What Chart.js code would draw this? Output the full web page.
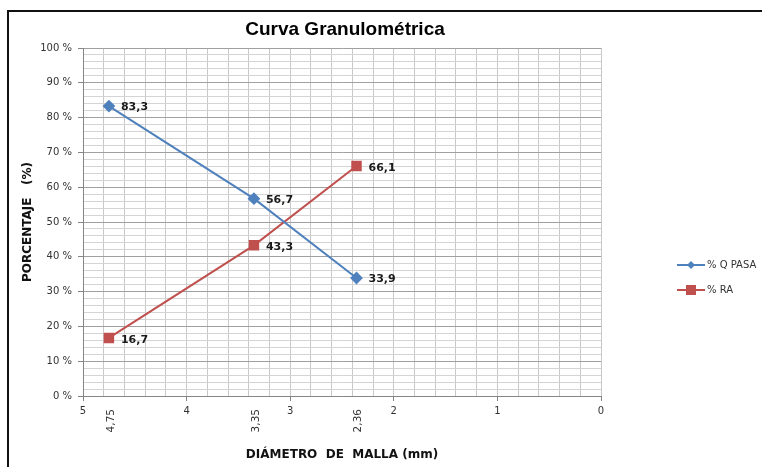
<!DOCTYPE html>
<html lang="es">
<head>
  <meta charset="UTF-8">
  <title>Curva Granulométrica</title>
  <script src="https://cdn.jsdelivr.net/npm/chart.js"></script>
  <style>
    html, body { margin: 0; padding: 0; background: #fff; }
    #contenedor { width: 762px; height: 467px; }
  </style>
</head>
<body>
  <div id="contenedor">
    <canvas id="grafico" width="762" height="467"></canvas>
  </div>

  <script>
    // Datos
    const diametros = [4.75, 3.35, 2.36];
    const etiquetasMalla = ['4,75', '3,35', '2,36'];
    const pasa = [83.3, 56.7, 33.9];
    const retenido = [16.7, 43.3, 66.1];
    const nombresSeries = ['% Q PASA', '% RA'];
    const titulo = 'Curva Granulométrica';

    const azul = '#4F81BD';
    const rojo = '#C0504D';

    function puntos(valores) {
      return diametros.map((d, i) => ({ x: d, y: valores[i] }));
    }

    function esEntero(v) {
      return Math.abs(v - Math.round(v)) < 1e-6;
    }

    // Marco, titulo, etiquetas de datos, etiquetas de malla y leyenda
    const extras = {
      id: 'extras',
      beforeDraw(chart) {
        const ctx = chart.ctx;
        const area = chart.chartArea;
        ctx.save();
        ctx.fillStyle = '#fff';
        ctx.fillRect(0, 0, chart.width, chart.height);
        ctx.strokeStyle = '#111';
        ctx.lineWidth = 2;
        ctx.strokeRect(8, 11, 900, 600);

        // titulo centrado sobre el area del grafico
        ctx.font = 'bold 19px "Liberation Sans"';
        ctx.fillStyle = '#000';
        ctx.textAlign = 'center';
        ctx.textBaseline = 'middle';
        ctx.fillText(titulo, (area.left + area.right) / 2 + 3, 30);
        ctx.restore();
      },
      afterDatasetsDraw(chart) {
        const ctx = chart.ctx;
        const xs = chart.scales.x;
        ctx.save();

        // etiquetas de datos
        ctx.font = 'bold 11px "DejaVu Sans"';
        ctx.fillStyle = '#1a1a1a';
        ctx.textAlign = 'left';
        ctx.textBaseline = 'middle';
        chart.data.datasets.forEach((ds, di) => {
          const meta = chart.getDatasetMeta(di);
          meta.data.forEach((p, i) => {
            const txt = ds.data[i].y.toFixed(1).replace('.', ',');
            ctx.fillText(txt, p.x + 12, p.y + (di === 1 ? 2 : 1));
          });
        });

        // diametros de malla en vertical
        ctx.font = '10.5px "DejaVu Sans"';
        ctx.fillStyle = '#333';
        ctx.textAlign = 'right';
        diametros.forEach((d, i) => {
          const px = xs.getPixelForValue(d);
          ctx.save();
          ctx.translate(px + 2, 409);
          ctx.rotate(-Math.PI / 2);
          ctx.fillText(etiquetasMalla[i], 0, 0);
          ctx.restore();
        });

        // leyenda
        const colores = [azul, rojo];
        ctx.font = '10px "DejaVu Sans"';
        ctx.textAlign = 'left';
        chart.data.datasets.forEach((ds, di) => {
          const y = 265 + di * 25;
          ctx.strokeStyle = colores[di];
          ctx.fillStyle = colores[di];
          ctx.lineWidth = 2;
          ctx.beginPath();
          ctx.moveTo(677, y);
          ctx.lineTo(705, y);
          ctx.stroke();
          if (di === 0) {
            ctx.beginPath();
            ctx.moveTo(691, y - 4);
            ctx.lineTo(695, y);
            ctx.lineTo(691, y + 4);
            ctx.lineTo(687, y);
            ctx.closePath();
            ctx.fill();
          } else {
            ctx.fillRect(686, y - 5, 10, 10);
          }
          ctx.fillStyle = '#333';
          ctx.fillText(nombresSeries[di], 707, y);
        });
        ctx.restore();
      }
    };

    const ctx = document.getElementById('grafico').getContext('2d');
    new Chart(ctx, {
      type: 'scatter',
      data: {
        datasets: [
          {
            label: nombresSeries[0],
            data: puntos(pasa),
            showLine: true,
            borderColor: azul,
            backgroundColor: azul,
            borderWidth: 2,
            pointStyle: 'rectRot',
            pointRadius: 5,
            pointHoverRadius: 5
          },
          {
            label: nombresSeries[1],
            data: puntos(retenido),
            showLine: true,
            borderColor: rojo,
            backgroundColor: rojo,
            borderWidth: 2,
            pointStyle: 'rect',
            pointRadius: 6,
            pointHoverRadius: 6
          }
        ]
      },
      options: {
        responsive: false,
        animation: false,
        layout: { padding: { left: 10, right: 161, top: 48, bottom: 0 } },
        plugins: {
          legend: { display: false },
          tooltip: { enabled: false },
          title: { display: false }
        },
        scales: {
          x: {
            type: 'linear',
            reverse: true,
            min: 0,
            max: 5,
            afterFit(scale) { scale.height = 71; },
            ticks: {
              stepSize: 0.2,
              autoSkip: false,
              maxRotation: 0,
              minRotation: 0,
              padding: 4,
              color: '#333',
              font: { family: '"DejaVu Sans"', size: 10 },
              callback: v => esEntero(v) ? String(Math.round(v)) : ''
            },
            grid: {
              color: '#c8c8c8',
              tickLength: 5,
              tickColor: c => esEntero(c.tick.value) ? '#868686' : 'rgba(0,0,0,0)'
            },
            border: { display: true, color: '#868686' },
            title: {
              display: true,
              text: 'DIÁMETRO  DE  MALLA (mm)',
              color: '#111',
              font: { family: '"DejaVu Sans"', size: 12, weight: 'bold' },
              padding: { top: 0, bottom: 5 }
            }
          },
          y: {
            min: 0,
            max: 100,
            afterFit(scale) { scale.width = 73; },
            ticks: {
              stepSize: 2,
              autoSkip: false,
              padding: 6,
              color: '#333',
              font: { family: '"DejaVu Sans"', size: 10 },
              callback: v => v % 10 === 0 ? v + ' %' : ''
            },
            grid: {
              color: c => c.tick.value % 10 === 0 ? '#a0a0a0' : '#d4d4d4',
              tickLength: 5,
              tickColor: c => c.tick.value % 10 === 0 ? '#868686' : 'rgba(0,0,0,0)'
            },
            border: { display: true, color: '#868686' },
            title: {
              display: true,
              text: 'PORCENTAJE   (%)',
              color: '#111',
              font: { family: '"DejaVu Sans"', size: 12, weight: 'bold' },
              padding: { top: 11, bottom: 0 }
            }
          }
        }
      },
      plugins: [extras]
    });
  </script>
</body>
</html>
